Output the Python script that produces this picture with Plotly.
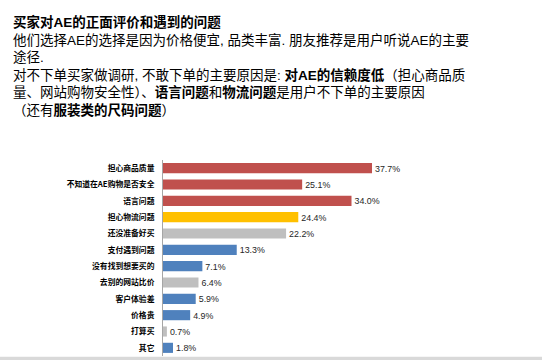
import plotly.graph_objects as go

categories = ["担心商品质量", "不知道在AE购物是否安全", "语言问题", "担心物流问题", "还没准备好买",
              "支付遇到问题", "没有找到想要买的", "去别的网站比价", "客户体验差", "价格贵", "打算买", "其它"]
values = [37.7, 25.1, 34.0, 24.4, 22.2, 13.3, 7.1, 6.4, 5.9, 4.9, 0.7, 1.8]
groups = ["trust", "trust", "trust", "logistics", "other", "blue", "blue", "other", "blue", "blue", "other", "blue"]
group_colors = {"trust": "#C0504D", "logistics": "#FFC000", "other": "#BFBFBF", "blue": "#4F81BD"}

title_lines = [
    "<b>买家对AE的正面评价和遇到的问题</b>",
    "他们选择AE的选择是因为价格便宜, 品类丰富. 朋友推荐是用户听说AE的主要",
    "途径.",
    "对不下单买家做调研, 不敢下单的主要原因是: <b>对AE的信赖度低</b>（担心商品质",
    "量、网站购物安全性）、<b>语言问题</b>和<b>物流问题</b>是用户不下单的主要原因",
    "（还有<b>服装类的尺码问题</b>）",
]

W, H = 542, 360
L, R, T, B = 163, 2, 160, 4
PW, PH = W - L - R, H - T - B
font = "Noto Sans CJK SC, Noto Sans, sans-serif"
title_font = "Liberation Sans, Arial, Noto Sans CJK SC, sans-serif"

fig = go.Figure(go.Bar(
    y=categories, x=values, orientation="h",
    marker=dict(color=[group_colors[g] for g in groups], line=dict(width=0)),
    text=[f"{v:.1f}%" for v in values], textposition="outside", cliponaxis=False,
    textfont=dict(size=10.5, color="#262626", family="Arial, Liberation Sans, sans-serif"),
    width=0.62,
))

fig.update_layout(
    width=W, height=H, margin=dict(l=L, r=R, t=T, b=B),
    paper_bgcolor="white", plot_bgcolor="white", showlegend=False,
    font=dict(family=font),
    xaxis=dict(range=[0, 68], visible=False, showgrid=False, zeroline=False),
    yaxis=dict(autorange="reversed", showgrid=False, zeroline=False, showline=True,
               linecolor="#A6A6A6", linewidth=1, ticks="", ticklabelstandoff=6,
               tickfont=dict(size=7.8, color="#000000", family=font, weight="bold")),
)

fig.add_annotation(text="<br>".join(title_lines), xref="paper", yref="paper",
                   x=(11 - L) / PW, y=1 - (66 - T) / PH, xanchor="left", yanchor="middle",
                   showarrow=False, align="left",
                   font=dict(size=13.5, color="#000000", family=title_font))

fig.add_shape(type="rect", xref="paper", yref="paper", x0=-L / PW, x1=(W - L) / PW,
              y0=-B / PH, y1=-0.004, fillcolor="#D9D9D9", line=dict(width=0))

fig.write_html("out.html")
